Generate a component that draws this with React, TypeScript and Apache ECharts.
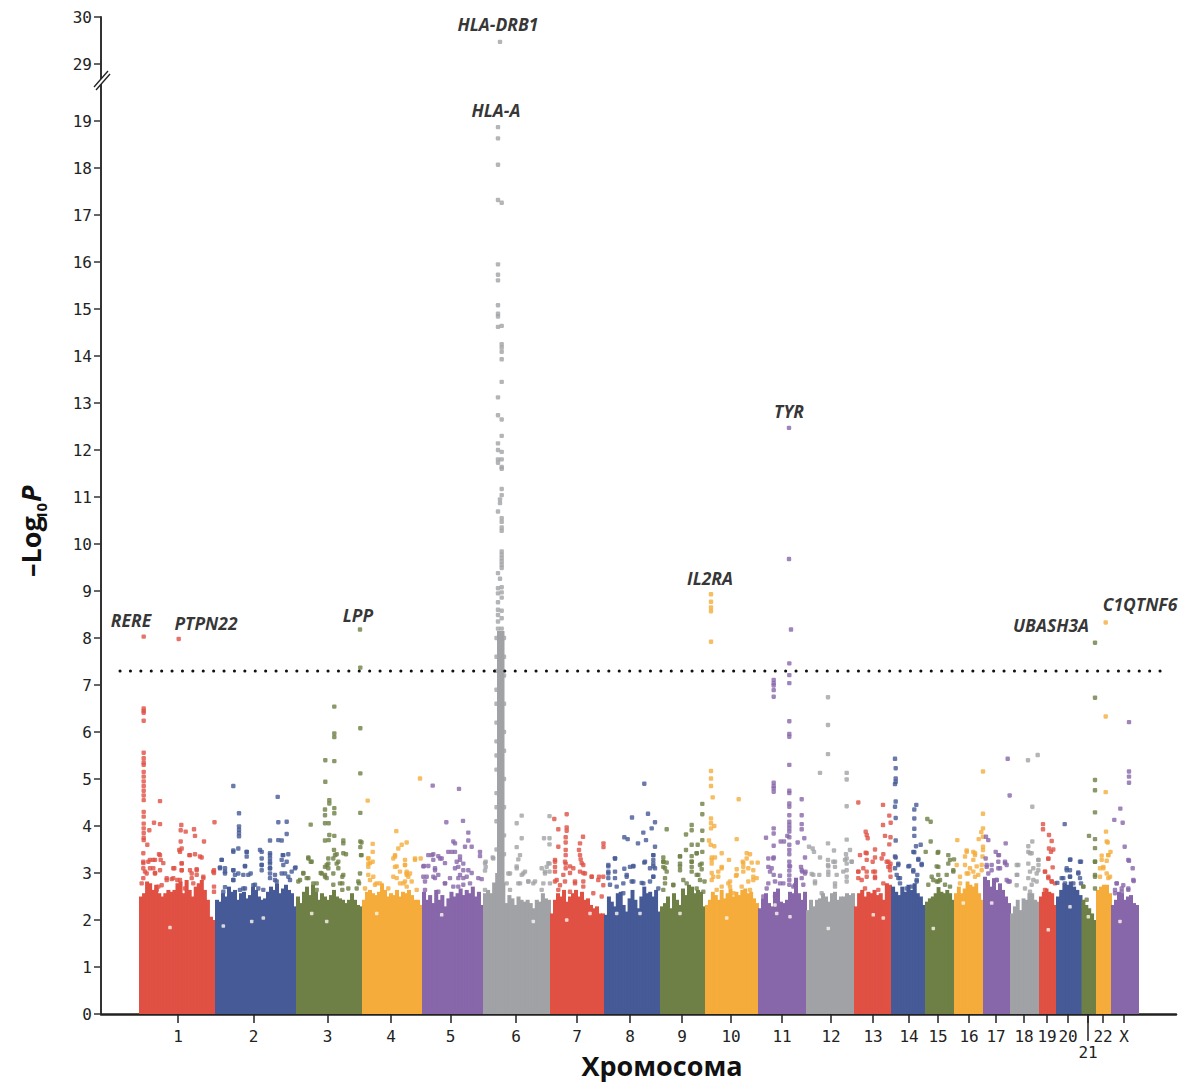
import React, { useEffect, useRef } from "react";
import * as echarts from "echarts";

const chrNames = ["1","2","3","4","5","6","7","8","9","10","11","12","13","14","15","16","17","18","19","20","21","22","X"];
const chrStarts = [0,76,157,223,283,344,411,465,521,566,619,667,715,752,786,815,844,871,900,917,942.5,957,972];
const genomeEnd = 999;
const chrTicks = [39,114.5,188.5,252,311.5,377,438,491,543,592,643,692,734,770,799,830,857,885,908,929,949,964,985];
const chrColors = ["#E05043","#455A96","#6E8045","#F5AC3B","#8866AA","#A0A2A5"];
const yTicksLower = [0,1,2,3,4,5,6,7,8,9,10,11,12,13,14,15,16,17,18,19];
const threshold = 7.3;

// Top of the near-solid mass, per chromosome, left to right
const massTops = [
  [2.50,2.57,2.82,2.78,2.64,2.75,2.57,2.50,2.57,2.64,2.60,2.64,2.78,2.82,2.57,2.85,2.64,2.50,2.71,2.78,2.85,2.64,2.43,2.07,2.00],
  [2.43,2.39,2.57,2.50,2.71,2.60,2.64,2.43,2.57,2.60,2.46,2.53,2.71,2.64,2.50,2.43,2.46,2.60,2.71,2.64,2.78,2.57,2.67,2.75,2.64,2.57,2.29],
  [2.50,2.36,2.60,2.71,2.53,2.75,2.60,2.43,2.57,2.50,2.43,2.53,2.64,2.50,2.46,2.43,2.36,2.43,2.57,2.43,2.32,2.29],
  [2.43,2.60,2.64,2.57,2.53,2.60,2.78,2.64,2.50,2.57,2.53,2.64,2.50,2.60,2.57,2.64,2.53,2.43,2.43,2.32],
  [2.60,2.43,2.53,2.36,2.64,2.43,2.53,2.29,2.46,2.60,2.50,2.57,2.67,2.53,2.64,2.57,2.71,2.50,2.60,2.32],
  [2.57,2.64,2.57,2.80,3.00,3.00,2.80,2.36,2.53,2.46,2.32,2.50,2.43,2.39,2.43,2.36,2.25,2.43,2.39,2.57,2.46,2.43],
  [2.14,2.43,2.57,2.50,2.64,2.39,2.50,2.57,2.64,2.50,2.60,2.43,2.46,2.32,2.25,2.29,2.14,2.14],
  [2.11,2.50,2.39,2.29,2.57,2.60,2.32,2.18,2.46,2.64,2.43,2.25,2.50,2.71,2.57,2.60,2.50,2.64,2.18],
  [2.29,2.36,2.50,2.25,2.57,2.43,2.32,2.67,2.53,2.75,2.71,2.57,2.64,2.60,2.29],
  [2.32,2.43,2.60,2.53,2.43,2.64,2.46,2.57,2.67,2.50,2.60,2.53,2.64,2.67,2.57,2.60,2.46,2.36],
  [2.25,2.46,2.57,2.36,2.29,2.60,2.67,2.39,2.36,2.43,2.60,2.57,2.90,2.57,2.43,2.60],
  [2.21,2.43,2.29,2.43,2.46,2.57,2.50,2.39,2.57,2.60,2.43,2.50,2.50,2.57,2.53,2.57],
  [2.29,2.57,2.64,2.50,2.60,2.57,2.64,2.53,2.57,2.43,2.78,2.75],
  [2.71,2.60,2.53,2.71,2.60,2.75,2.64,2.78,2.57,2.50,2.32],
  [2.39,2.46,2.50,2.57,2.70,2.60,2.57,2.64,2.57,2.43],
  [2.57,2.71,2.57,2.67,2.82,2.75,2.71,2.78,2.57,2.43],
  [2.92,2.85,2.71,2.89,2.64,2.78,2.64,2.50,2.36],
  [2.14,2.29,2.43,2.21,2.46,2.43,2.57,2.57,2.43,2.39],
  [2.50,2.60,2.67,2.60,2.57,2.32],
  [2.50,2.64,2.78,2.75,2.82,2.71,2.64,2.53],
  [2.43,2.32,2.25,2.14,2.00],
  [2.64,2.71,2.75,2.75,2.57],
  [2.32,2.43,2.60,2.57,2.43,2.50,2.53,2.36,2.32],
];
// Solid part of the HLA peak: [from, to, top]
const hlaColumn = [[358,364.5,8.15]];

const chr1Pts = [[4.7,8.03],[39.7,7.98],[4.7,6.5],[4.7,6.45],[4.7,6.41],[4.7,6.24],[4.7,5.56],[4.7,5.44],[4.7,5.35],[4.7,5.3],[4.7,5.15],[4.7,5.05],[4.7,4.95],[4.7,4.85],[4.7,4.75],[4.7,4.65],[4.7,4.55],[4.7,4.3],[4.7,4.2],[4.7,4.05],[4.7,3.95],[4.7,3.85],[4.7,3.75],[4.7,3.7],[21,4.53],[15,4.07],[21,4.04],[10.3,3.91],[8.3,3.6],[75.5,4.08],[42.3,4.02],[41.7,3.91],[46.7,3.88],[55,3.93],[56,3.79],[65,3.67],[41.7,3.67],[40.3,3.49],[42.7,3.52],[50.3,3.38],[56,3.4],[62.7,3.33],[20,3.4],[14.3,3.28],[9.3,3.24],[21.7,3.28],[4.3,3.42],[4.3,3.24],[4.3,3.1],[42.7,3.2],[35.3,3.1],[42.7,3.06],[57.7,3.08],[51,3.06],[6,3.03],[16,3],[11,3.1],[27.7,2.89],[32.7,2.87],[38.3,2.85],[64.3,2.92],[75,3.06],[75,3],[75,2.71],[75,2.6],[17.7,2.64],[22.7,2.74],[52.7,2.89],[57.7,2.96],[2.7,2.78]];
const chr2Pts = [[94.3,4.85],[100,4.27],[100,3.99],[100,3.92],[100,3.85],[100,3.78],[138.7,4.62],[139.3,4.08],[147.7,4.09],[147.7,3.83],[131,3.69],[139.3,3.7],[142.7,3.69],[94.3,3.48],[99.3,3.52],[107.7,3.45],[107.7,3.35],[121,3.49],[122.7,3.31],[131,3.42],[131,3.31],[131,3.2],[131,3.1],[131,2.99],[131,2.89],[143.7,3.38],[149.3,3.4],[142.7,3.28],[144.3,3.17],[82.7,3.28],[81,3.12],[86,3.1],[86,2.99],[94.3,3.06],[96,2.96],[99.3,2.99],[106,3.15],[111.7,2.99],[122.7,3.17],[122.7,3.06],[152.7,3.03],[156.5,3.12],[142.7,2.99],[149.3,2.92],[136,2.85],[94.3,2.85],[86,2.7],[104.3,2.67],[114.3,2.74],[119.3,2.67]];
const chr3Pts = [[221,8.18],[221.3,7.37],[195.3,6.54],[221.3,6.08],[195.3,5.97],[195.3,5.89],[186.3,5.4],[195.3,5.38],[221.3,5.12],[186.3,4.94],[190.3,4.55],[190.3,4.48],[186,4.35],[195.3,4.38],[195.3,4.27],[221.3,4.28],[186,4.23],[171.7,4.03],[186,4.06],[189.7,4.06],[190.3,3.81],[195.3,3.79],[186,3.69],[189.7,3.7],[204.3,3.69],[204.3,3.63],[221.3,3.67],[222.5,3.65],[221.3,3.55],[195,3.49],[197.7,3.4],[194.3,3.31],[207,3.4],[222,3.38],[169.3,3.33],[171.7,3.24],[189.3,3.31],[189.3,3.2],[189.3,3.1],[197.7,3.2],[199.3,3.1],[186,3.13],[186,2.92],[181.7,3],[164.3,3],[159.3,2.82],[169.3,2.89],[203.3,2.92],[203.3,2.78],[203.3,2.64],[220,2.78],[217.7,2.67],[177.7,2.78]];
const chr4Pts = [[228.7,4.54],[257.3,3.89],[233.7,3.62],[233.7,3.45],[267.7,3.65],[262.7,3.6],[259.3,3.52],[256,3.35],[254.3,3.31],[229.3,3.31],[229.3,3.2],[233.7,3.24],[229.3,3.13],[256,3.13],[267.7,2.99],[271,2.99],[229.3,2.96],[234.3,2.92],[257.7,2.89],[237.7,2.78],[266,2.82],[281,5.01],[276,3.31],[281.7,3.31],[266,3.28],[266,3.17],[267.7,3.03],[269.3,2.92],[272.7,2.82],[264.3,2.78]];
const chr5Pts = [[293.7,4.86],[320,4.79],[307.3,4.08],[324,4.11],[329.3,3.86],[329.3,3.69],[314.3,3.67],[316,3.63],[332.7,3.56],[326,3.56],[309.3,3.45],[316,3.45],[341,3.45],[341,3.36],[289.3,3.38],[294.3,3.4],[299.3,3.36],[302.7,3.31],[294.3,3.28],[321,3.35],[317.7,3.24],[319.3,3.13],[324.3,3.2],[285,3.15],[289.3,3.15],[296,3.06],[299.3,2.96],[294.3,2.92],[329.3,3.06],[332.7,3],[321,2.96],[324.3,2.89],[284.3,2.92],[286,2.82],[311,2.89],[306,2.78],[339.3,2.89],[342.7,2.87],[319.3,2.71],[331,2.78]];
const chr6Pts = [[359,18.87],[359,18.63],[359,18.07],[359,17.32],[362.7,17.26],[359,15.95],[359,15.73],[359,15.61],[359,15.08],[359,14.9],[359,14.84],[359,14.62],[362.7,14.64],[362.7,14.25],[362.7,14.18],[362.7,14.09],[362.7,13.93],[362.7,13.45],[359,13.12],[359,12.74],[362.7,12.65],[362.7,12.3],[359,12.14],[359,12],[362.7,11.96],[362.7,11.8],[359,11.8],[359,11.73],[362.7,11.64],[362.7,11.6],[362.7,11.17],[362.7,11.04],[361,10.95],[361,10.87],[359,10.69],[362.7,10.55],[362.7,10.47],[362.7,10.35],[362.7,10.28],[362.7,9.84],[362.7,9.77],[362.7,9.7],[362.7,9.63],[362.7,9.56],[362.7,9.49],[359,9.38],[361,9.26],[359,9.06],[362.7,9.08],[362.7,8.97],[359,8.95],[362.7,8.86],[359,8.76],[359,8.6],[362.7,8.58],[359,8.49],[362.7,8.42],[359,8.35],[359,8.2],[362.7,8.2],[357.5,7.6],[365,7.2],[357.5,6.6],[365,6],[357.5,5.5],[365,5],[357.5,4.4],[365,3.8],[382.7,4.22],[377.7,4.06],[382.7,3.74],[377.7,3.55],[381,3.38],[379.3,3.29],[353.7,3.33],[346.7,3.24],[346.7,3.13],[346,3.05],[377.7,3.1],[382.7,2.96],[386,3.03],[371,2.99],[410.5,4.21],[405,3.74],[410.5,3.74],[410.5,3.61],[410.5,3.2],[407.7,3.13],[402.7,3.1],[410.5,3.03],[406,2.99],[389.3,2.82],[396,2.82],[404.3,2.78],[379.3,2.78],[367.7,2.78],[346,2.64]];
const chr7Pts = [[427.7,4.25],[415.3,4.15],[419.3,3.93],[427.7,3.97],[427.7,3.9],[444,3.77],[426.7,3.76],[426.7,3.65],[441,3.63],[440,3.49],[441,3.38],[441.7,3.29],[464.5,3.63],[464.5,3.55],[419.3,3.56],[426.7,3.49],[426.7,3.38],[416,3.28],[416,3.13],[416,3.03],[426.7,3.2],[426.7,3.1],[431,3],[434.3,3.1],[444.3,3.17],[441,3.03],[444.3,3],[424.3,2.96],[452.7,2.92],[460,2.92],[464.3,2.92],[464.3,2.74],[416,2.82],[421,2.74],[436,2.78],[444.3,2.82]];
const chr8Pts = [[505.3,4.9],[509,4.26],[493,4.18],[516,4.08],[512.7,3.95],[504.3,3.86],[485.3,3.76],[488.7,3.72],[507,3.7],[499,3.63],[516,3.56],[476,3.31],[514.3,3.38],[514.3,3.28],[514.3,3.2],[505.3,3.22],[511,3.1],[516,3.1],[469.3,3.17],[469.3,3.03],[469.3,2.89],[494.3,3.15],[491,3.13],[485.3,3.09],[476,3.03],[476,2.89],[487.7,2.92],[484.3,2.78],[492.7,2.82],[514.3,2.92],[511,2.82],[502.7,2.79]];
const chr9Pts = [[563.3,4.47],[563.3,4.25],[563.3,3.9],[563.3,3.7],[552.7,4.02],[552.7,3.91],[527.7,3.93],[547,3.82],[552.7,3.6],[558.7,3.6],[563.3,3.45],[557.7,3.42],[547,3.49],[524.3,3.33],[524.3,3.24],[527.7,3.22],[524.3,3.13],[527.7,3.03],[541,3.36],[541,3.2],[541,3.06],[552.7,3.36],[552.7,3.24],[552.7,3.13],[552.7,3.03],[562.7,3.2],[562.7,3.08],[526,2.89],[526,2.78],[544.3,2.85],[557.7,2.96],[561,2.85],[565.5,2.82],[534.3,2.74]];
const chr10Pts = [[572,8.93],[572,8.77],[572,8.65],[572,8.57],[572,7.92],[572,5.17],[572,5.01],[572,4.85],[573.7,4.61],[599.7,4.57],[572,4.16],[572,4.06],[572,3.95],[575.3,4],[597.7,3.72],[570,3.69],[571.7,3.6],[575.3,3.57],[582.7,3.42],[572.7,3.33],[576,3.33],[572.7,3.2],[590,3.28],[611,3.4],[607.7,3.31],[603.7,3.24],[612.7,3.22],[618.7,3.22],[604.3,3.13],[609.3,3.1],[604.3,3.03],[582.7,3.13],[579.3,3.03],[597.7,3.08],[597,2.94],[572.7,3],[572.7,2.85],[579.3,2.92],[591,2.82],[591,2.71],[614.3,2.92],[609.3,2.82],[617.7,2.89],[582.7,2.71],[602.7,2.71]];
const chr11Pts = [[650,12.47],[650,9.68],[652,8.18],[650.3,7.46],[650.3,7.21],[650.3,7.04],[634.7,7.11],[634.7,7.04],[634.7,6.99],[634.7,6.89],[634.7,6.75],[650.3,6.23],[650.3,5.96],[650.3,5.9],[650.3,5.3],[634.7,4.92],[634.7,4.85],[634.7,4.8],[634.7,4.73],[650.3,4.75],[650.3,4.7],[662.7,4.57],[650.3,4.48],[650.3,4.41],[650.3,4.23],[662.7,4.23],[650.3,4.09],[650.3,4.02],[650.3,3.95],[650.3,3.88],[662.7,4.04],[662.7,3.93],[634.7,3.95],[634.7,3.84],[627,3.75],[648.3,3.79],[650.3,3.76],[665.3,3.74],[641.7,3.67],[645,3.67],[658.7,3.65],[634.7,3.58],[650.3,3.6],[650.3,3.49],[650.3,3.4],[629.3,3.31],[634.7,3.33],[666,3.33],[650.3,3.24],[650.3,3.15],[650.3,3.05],[650.3,2.95],[650.3,2.85],[650.3,2.75],[629.3,3.13],[631,3.03],[662,3.13],[663.3,3.03],[666.5,3.03],[634.7,2.96],[641,2.94],[644.3,2.78],[629.3,2.78],[636,2.82],[656,2.74],[662.7,2.89]];
const chr12Pts = [[689,6.74],[689,6.15],[689,5.53],[681,5.13],[707.7,5.13],[707.7,4.99],[707.7,4.42],[689,3.63],[707.7,3.71],[670,3.56],[673.7,3.52],[675,3.45],[695,3.48],[681,3.33],[711,3.49],[707,3.4],[707.7,3.31],[689,3.28],[689,3.17],[696,3.24],[696,3.13],[707.7,3.2],[707.7,3.06],[707.7,2.92],[712.7,3.24],[672.7,2.98],[680.3,2.96],[689.3,3.03],[697.7,2.96],[676,2.82],[696,2.78]];
const chr13Pts = [[719.3,4.5],[744,4.45],[750.3,4.22],[751.7,4.07],[744,4.02],[726.7,3.88],[727.7,3.81],[728.7,3.74],[746,3.79],[751.5,3.76],[750.3,3.61],[736,3.5],[744.3,3.4],[726.7,3.43],[727.7,3.28],[721,3.38],[736,3.33],[733.7,3.24],[749.3,3.24],[749.3,3.13],[751.5,3.2],[751,3.06],[724.3,3.1],[719.3,3.03],[736,3.03],[727.7,2.92],[736,2.92],[719.3,2.89],[751.5,2.92],[744.3,2.78]];
const chr14Pts = [[756,5.43],[756.7,5.23],[756.7,5.01],[756.7,4.94],[756,4.89],[756.7,4.52],[756,4.41],[777.3,4.45],[775.3,4.35],[775.3,4.16],[756.7,4.17],[775.3,3.94],[775.3,3.79],[756.7,3.69],[777,3.57],[781.7,3.6],[775.3,3.44],[779.3,3.3],[756.7,3.33],[759.3,3.2],[756,3.1],[770.3,3.15],[774.3,3.06],[782.7,3.19],[757.7,2.96],[761,2.89],[778.3,2.96],[777.7,2.82],[772.7,2.71]];
const chr15Pts = [[788.3,4.15],[791.7,4.09],[791.7,3.67],[786.7,3.45],[798.7,3.43],[809.3,3.38],[809.3,3.2],[799.3,3.13],[799.3,2.96],[799.3,2.82],[794.3,2.85],[815,3.29],[814.3,3.03],[807.7,2.96],[801,2.85],[811,2.71]];
const chr16Pts = [[818.3,3.7],[844,5.16],[844,4.26],[844,3.95],[844,3.77],[842.3,3.87],[839.7,3.72],[844,3.56],[844,3.49],[827.7,3.48],[834.3,3.45],[836,3.38],[826,3.35],[834.3,3.28],[843.5,3.35],[842.7,3.17],[817.7,3.17],[826,3.17],[834.3,3.03],[829.3,2.99],[839.3,2.96],[821,2.78]];
const chr17Pts = [[868.7,5.43],[870.7,4.65],[847,3.77],[849.3,3.7],[866.7,3.63],[856.7,3.45],[860,3.38],[846.7,3.31],[852.7,3.17],[859.3,3.24],[867.7,3.17],[847.7,3.13],[859.3,3.1],[866,3.24],[849.3,2.99],[857.7,2.85],[867.7,2.85],[870.7,2.82]];
const chr18Pts = [[898.7,5.51],[889,5.4],[893.3,4.41],[893.3,3.67],[889.3,3.57],[889.3,3.45],[892.7,3.42],[879.3,3.17],[899.5,3.28],[899.5,3.17],[889.3,3.2],[894.3,3.1],[899.3,3.06],[878.3,2.96],[877.7,2.74],[889.3,2.89],[894.3,2.85],[897.7,2.82]];
const chr19Pts = [[904,4.04],[904,3.93],[910,3.81],[912.7,3.68],[910,3.52],[914.3,3.5],[912,3.45],[909.3,3.3],[913.7,3.12],[906,3.03],[909.3,2.92],[912.7,2.82],[916,2.78]];
const chr20Pts = [[925.7,4.04],[931.3,3.29],[942,3.24],[927.7,3.1],[931,3.06],[939.3,3.01],[924.3,2.89],[931,2.92],[941,2.89],[918.3,2.79],[926,2.78],[934.3,2.78]];
const chr21Pts = [[956,7.9],[956,6.73],[956,4.98],[956,4.76],[956,4.29],[950,3.79],[956,3.72],[956,3.53],[956,3.24],[956,2.92],[944.3,2.71]];
const chr22Pts = [[966.7,8.33],[966.7,6.33],[966.7,4.72],[967,3.88],[967.7,3.67],[968.7,3.65],[971.5,3.45],[969.3,3.38],[962.7,3.37],[967.7,3.26],[961,3.1],[964.3,3.13],[967.7,2.99],[971,2.92]];
const chrXPts = [[990,6.21],[990,5.16],[990,5.05],[990,4.92],[981.3,4.37],[975.3,4.13],[983.7,4.07],[985.7,3.56],[990,3.26],[993.7,3.1],[994.7,2.83],[977.7,2.78],[984.3,2.74],[989.3,2.67],[976,2.64],[982.7,2.6]];
const chrPoints = [chr1Pts,chr2Pts,chr3Pts,chr4Pts,chr5Pts,chr6Pts,chr7Pts,chr8Pts,chr9Pts,chr10Pts,chr11Pts,chr12Pts,chr13Pts,chr14Pts,chr15Pts,chr16Pts,chr17Pts,chr18Pts,chr19Pts,chr20Pts,chr21Pts,chr22Pts,chrXPts];

// Further points of the busy band just above the mass, by chromosome
const bandPts = [
  [[4.3,3.21],[11,3.28],[16,3.28],[21,3.38],[14.3,3.1],[7.7,2.99],[4.3,2.89],[24.3,3.21],[16,2.99],[21,3.06],[41,3.45],[42.7,3.21],[34.3,3.1],[42.7,3.06],[52.7,2.99],[57.7,3.06],[61,3.35],[51,3.38],[64.3,2.89],[54.3,2.78],[34.3,2.89],[27.7,2.85],[19.3,2.71],[59.3,2.6],[41,2.85],[74.3,3.03],[46,2.67]],
  [[82.7,3.28],[81,3.1],[94.3,3.45],[107.7,3.45],[122.7,3.45],[131,3.38],[131,3.24],[122.7,3.17],[106,3.14],[94.3,3.06],[86,3.03],[109.3,2.96],[104.3,2.96],[131,3.1],[144.3,3.38],[147.7,3.24],[156,3.1],[136,2.96],[146,2.99],[94.3,2.85],[116,2.75],[106,2.67],[124.3,2.64],[137.7,2.82],[151,2.85],[101,2.64],[84.3,2.6]],
  [[169.3,3.31],[172.7,3.24],[187.7,3.17],[196,3.38],[199.3,3.24],[204.3,3.42],[182.7,2.99],[186,2.96],[194.3,2.99],[204.3,2.96],[221,2.99],[222.5,3.38],[164.3,2.99],[167.7,2.89],[161,2.85],[174.3,2.78],[187.7,2.89],[201,2.78],[209.3,2.67],[219.3,2.82],[194.3,2.75],[177.7,2.64]],
  [[229.3,3.31],[231,3.21],[256,3.38],[257.7,3.14],[266,3.17],[276,3.28],[267.7,2.96],[261,3.03],[231,2.85],[241,2.78],[254.3,2.92],[236,2.75],[226,2.67],[249.3,2.67],[261,2.78],[277.7,2.64],[267.7,2.71]],
  [[292.7,3.38],[301,3.31],[312.7,3.45],[321,3.28],[284.3,3.14],[296,3.1],[306,3.21],[316,3.1],[324.3,3.06],[287.7,2.92],[296,2.89],[306,2.78],[319.3,2.89],[327.7,2.92],[286,2.64],[299.3,2.6],[314.3,2.71],[324.3,2.75]],
  [[346,3.21],[354.3,3.31],[369.3,2.99],[377.7,3.14],[384.3,2.99],[381,2.78],[389.3,2.82],[394.3,2.78],[371,2.64],[402.7,2.64],[409.3,3.21],[406,3.03],[411,2.78],[357.5,8],[357.5,7.3],[357.5,6.9],[357.5,6.2],[357.5,5.8],[357.5,5.2],[357.5,4.7],[357.5,4.1],[357.5,3.5],[365,8],[365,7.6],[365,6.6],[365,5.6],[365,4.4],[365,3.4]],
  [[416,3.24],[426,3.24],[431,3.14],[442.7,3.21],[417.7,2.85],[426,2.82],[436,2.82],[446,2.99],[452.7,2.92],[459.3,2.85],[419.3,2.64],[431,2.6],[444.3,2.71],[454.3,2.57],[462.7,2.5]],
  [[469.3,3.14],[476,3.31],[469.3,2.99],[494.3,3.14],[487.7,2.96],[514.3,3.38],[514.3,3.14],[506,3.24],[471,2.75],[477.7,2.71],[494.3,2.82],[504.3,2.78],[514.3,2.92],[519.3,2.67],[484.3,2.57]],
  [[524.3,3.24],[526,3.1],[541,3.35],[541,3.14],[552.7,3.24],[561,3.17],[557.7,3.42],[559.3,2.96],[534.3,2.75],[547.7,2.78],[557.7,2.67],[564.3,2.6],[524.3,2.64]],
  [[572.7,3.28],[582.7,3.1],[574.3,2.92],[589.3,2.78],[604.3,3.21],[614.3,3.06],[614.3,2.85],[597.7,2.96],[607.7,3.42],[577.7,2.64],[594.3,2.57],[611,2.64]],
  [[634.3,3.31],[632.7,3.1],[627.7,2.67],[641,2.78],[651,3.14],[654.3,2.71],[662.7,3.06],[666,2.99],[664.3,2.75],[636,2.5],[624.3,2.5]],
  [[674.3,2.96],[676,2.78],[689.3,3.14],[694.3,3.24],[704.3,3.03],[706,3.28],[712.7,3.24],[689.3,2.96],[696,2.71],[707.7,2.82],[682.7,2.57]],
  [[727.7,3.42],[719.3,3.03],[727.7,3.03],[722.7,2.85],[734.3,3.03],[736,2.89],[747.7,3.24],[751,3.14],[726,2.67],[742.7,3.31],[739.3,2.64]],
  [[756,3.35],[759.3,3.17],[759.3,2.89],[774.3,3.45],[779.3,3.28],[782.7,3.17],[774.3,3.03],[769.3,3.14],[777.7,2.85],[761,2.78],[767.7,2.67]],
  [[799.3,3.45],[811,3.28],[797.7,3.14],[814.3,3.06],[792.7,2.92],[797.7,2.82],[806,2.75],[789.3,2.75]],
  [[827.7,3.45],[836,3.42],[831,3.1],[837.7,3.14],[821,2.92],[827.7,2.99],[836,2.92],[842.7,3.06]],
  [[859.3,3.38],[847.7,3.17],[861,3.1],[866,3.21],[852.7,3.06],[857.7,2.85],[869.3,2.82]],
  [[877.7,3.17],[891,3.42],[899.3,3.28],[877.7,2.96],[891,3.03],[897.7,2.99],[892.7,2.75],[886,2.67],[891,2.6]],
  [[909.3,3.31],[906,3.03],[909.3,2.89],[912.7,2.82],[906,2.64]],
  [[931,3.28],[927.7,3.06],[941,3.24],[922.7,2.89],[931,2.92],[939.3,2.99],[942,2.78]],
  [[956,3.24],[956,2.96],[956,2.67],[944.3,2.71],[947.7,2.43]],
  [[962.7,3.28],[964.3,3.1],[969.3,3.38],[961,2.92],[969.3,2.89]],
  [[977.7,2.78],[989.3,3.28],[994.3,2.85],[976,2.57],[982.7,2.67],[989.3,2.64]],
];
// Pale specks inside the mass where no point fell
const massGaps = [[31,1.84],[84.3,1.87],[112.7,1.97],[124.3,2.04],[237.7,2.14],[302.7,2.11],[187.7,1.97],[172.7,2.14],[477.7,2.14],[501,2.14],[427.7,2],[451,2.14],[394.3,1.97],[541,2.14],[587.7,2.04],[636,2.32],[637.7,2.14],[651,2.07],[734.3,2.11],[744.3,2.04],[689.3,1.82],[794.3,1.82],[824.3,2.36],[852.7,2.36],[909.3,1.79],[931,2.28],[981,1.97],[949.3,2.07]];

const topPoint = [[361,29.47]];
const geneLabels = [
  ["RERE",-8,8.38],["PTPN22",67,8.32],["LPP",219,8.49],["HLA-A",357,19.23],
  ["IL2RA",571,9.28],["TYR",650,12.83],["UBASH3A",912,8.28],["C1QTNF6",1001,8.72],
];
const topGeneLabels = [["HLA-DRB1",359,29.85]];

const colorOf = (i: number) => chrColors[i % chrColors.length];
const monoFont = "'DejaVu Sans Mono', monospace";
const labelFont = "'Open Sans', sans-serif";

export default function App() {
  const ref = useRef<HTMLDivElement>(null);
  useEffect(() => {
    const chart = echarts.init(ref.current!, undefined, { renderer: "svg" });
    const massRects: number[][] = [];
    massTops.forEach((tops, c) => {
      const start = chrStarts[c];
      const end = c + 1 < chrStarts.length ? chrStarts[c + 1] : genomeEnd;
      const w = (end - start) / tops.length;
      tops.forEach((h, b) => massRects.push([start + b * w, start + (b + 1) * w, h, c]));
    });
    hlaColumn.forEach((r) => massRects.push([r[0], r[1], r[2], 5]));
    const xMin = -38, xMax = 1037;
    const gridL = 101, gridW = 1075, zeroY = 1014;
    const tickLabel = (v: number) => {
      const i = chrTicks.indexOf(v);
      if (i < 0) return "";
      return chrNames[i] === "21" ? "\n21" : chrNames[i];
    };
    const geneLabel = {
      show: true, position: "inside" as const,
      formatter: (p: any) => p.data[2],
      fontFamily: labelFont, fontStyle: "italic" as const, fontWeight: "bold" as const,
      fontSize: 17.5, color: "#000",
    };
    chart.setOption({
      animation: false,
      backgroundColor: "#fff",
      grid: [
        { left: gridL, top: 17, width: gridW, height: 47, outerBoundsMode: "none" },
        { left: gridL, top: 64, width: gridW, height: 950, outerBoundsMode: "none" },
      ],
      xAxis: [
        { gridIndex: 0, type: "value", min: xMin, max: xMax, show: false },
        {
          gridIndex: 1, type: "value", min: xMin, max: xMax, splitLine: { show: false },
          axisLine: { lineStyle: { color: "#222", width: 2.5 } },
          axisTick: { customValues: chrTicks, length: 9, lineStyle: { color: "#222", width: 1.5 } },
          axisLabel: {
            customValues: chrTicks, formatter: tickLabel, margin: 14,
            fontFamily: monoFont, fontSize: 16, color: "#222", lineHeight: 16,
          },
        },
      ],
      yAxis: [
        {
          gridIndex: 0, type: "value", min: 29, max: 30, interval: 1, splitLine: { show: false },
          axisLine: { show: true, onZero: false, lineStyle: { color: "#333", width: 2 } },
          axisTick: { show: true, length: 7, lineStyle: { color: "#333", width: 1.5 } },
          axisLabel: { margin: 9, fontFamily: monoFont, fontSize: 16, color: "#222" },
        },
        {
          gridIndex: 1, type: "value", min: 0, max: 950 / 47, splitLine: { show: false },
          axisLine: { show: true, onZero: false, lineStyle: { color: "#333", width: 2 } },
          axisTick: { show: true, customValues: yTicksLower, length: 7, lineStyle: { color: "#333", width: 1.5 } },
          axisLabel: { customValues: yTicksLower, margin: 9, fontFamily: monoFont, fontSize: 16, color: "#222" },
        },
      ],
      series: [
        {
          type: "custom", name: "mass", xAxisIndex: 1, yAxisIndex: 1, silent: true,
          data: massRects, encode: { x: [0, 1], y: 2 },
          renderItem: (_: any, api: any) => {
            const a = api.coord([api.value(0), api.value(2)]);
            const b = api.coord([api.value(1), 0]);
            return {
              type: "rect",
              shape: { x: a[0], y: a[1], width: b[0] - a[0] + 1, height: b[1] - a[1] },
              style: { fill: colorOf(api.value(3)) },
            };
          },
        },
        {
          type: "scatter", name: "gaps", xAxisIndex: 1, yAxisIndex: 1, silent: true,
          symbol: "roundRect", symbolSize: 3.5, itemStyle: { color: "#FDF6F0" }, data: massGaps,
        },
        ...chrPoints.map((pts, c) => ({
          type: "scatter", name: "chr" + chrNames[c], xAxisIndex: 1, yAxisIndex: 1,
          symbol: "roundRect", symbolSize: 4.4, silent: true, clip: false,
          itemStyle: { color: colorOf(c) }, data: pts.concat(bandPts[c]),
        })),
        {
          type: "scatter", name: "chr6top", xAxisIndex: 0, yAxisIndex: 0,
          symbol: "roundRect", symbolSize: 4.4, silent: true,
          itemStyle: { color: colorOf(5) }, data: topPoint,
        },
        {
          type: "line", name: "threshold", xAxisIndex: 1, yAxisIndex: 1, silent: true, showSymbol: false,
          data: [[-19, threshold], [1031, threshold]],
          lineStyle: { color: "#111", width: 3, type: [0.1, 10.3], cap: "round" },
        },
        {
          type: "scatter", name: "genes", xAxisIndex: 1, yAxisIndex: 1, silent: true, symbolSize: 0,
          data: geneLabels.map((g) => [g[1], g[2], g[0]]), label: geneLabel,
        },
        {
          type: "scatter", name: "genesTop", xAxisIndex: 0, yAxisIndex: 0, silent: true, symbolSize: 0, clip: false,
          data: topGeneLabels.map((g) => [g[1], g[2], g[0]]), label: geneLabel,
        },
      ],
      graphic: [
        { type: "polygon", z: 50, shape: { points: [[94, 87], [108, 71], [110, 74], [96, 90]] }, style: { fill: "#fff" } },
        { type: "line", z: 51, shape: { x1: 94, y1: 87, x2: 108, y2: 71 }, style: { stroke: "#222", lineWidth: 1.3 } },
        { type: "line", z: 51, shape: { x1: 96, y1: 90, x2: 110, y2: 74 }, style: { stroke: "#222", lineWidth: 1.3 } },
        { type: "line", z: 51, shape: { x1: 1088, y1: zeroY, x2: 1088, y2: 1041 }, style: { stroke: "#222", lineWidth: 1.5 } },
        { type: "text", z: 51, x: 662, y: 1065, style: { text: "Хромосома", font: "bold 27px " + labelFont, fill: "#111", align: "center", verticalAlign: "middle" } },
        {
          type: "group", x: 32, y: 530, rotation: Math.PI / 2, z: 51,
          children: [
            { type: "text", x: -47, y: -15, style: { text: "–Log", font: "bold 27px " + labelFont, fill: "#111" } },
            { type: "text", x: 10, y: 1, style: { text: "10", font: "bold 15px " + labelFont, fill: "#111" } },
            { type: "text", x: 28, y: -15, style: { text: "P", font: "italic bold 27px " + labelFont, fill: "#111" } },
          ],
        },
      ],
    });
    return () => chart.dispose();
  }, []);
  return <div ref={ref} style={{ position: "absolute", left: 0, top: 0, width: 1200, height: 1092 }} />;
}
